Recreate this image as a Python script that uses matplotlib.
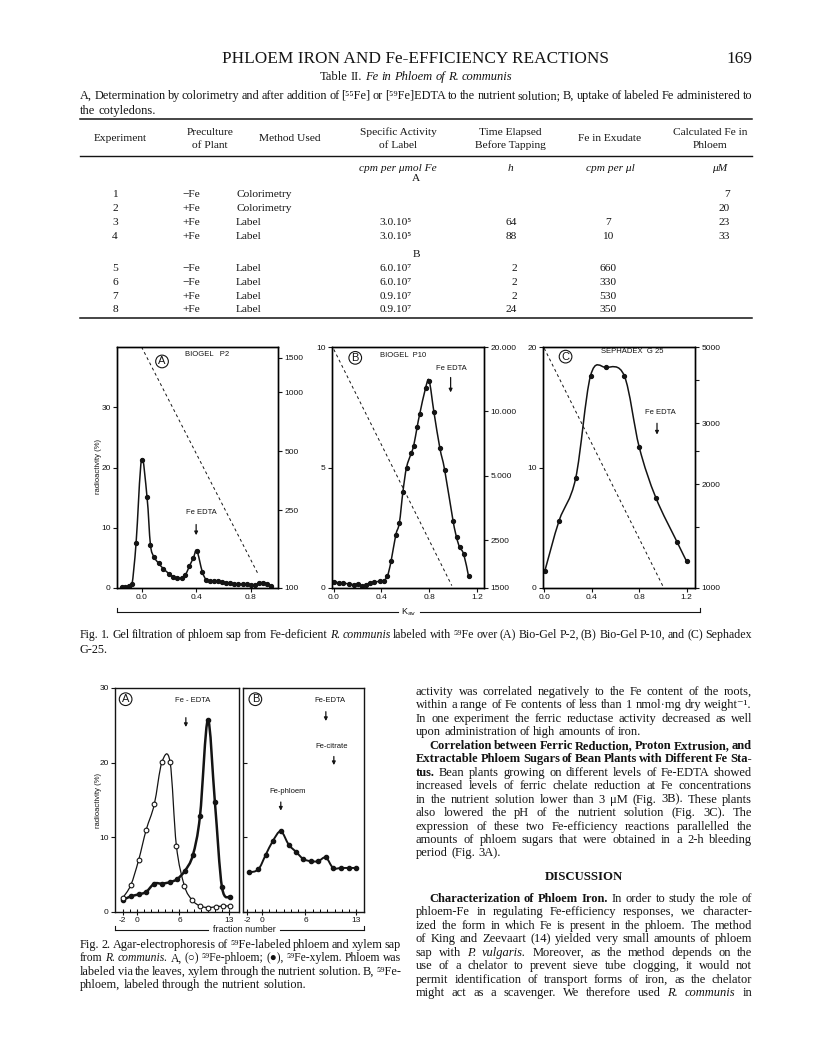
import numpy as np
import matplotlib
matplotlib.use("Agg")
import matplotlib.pyplot as plt
from matplotlib.path import Path
from matplotlib.patches import PathPatch
from matplotlib.lines import Line2D
from matplotlib.ticker import NullLocator, FixedLocator, NullFormatter

W, H = 816, 1057
SERIF = ["Liberation Serif", "DejaVu Serif"]
SANS = ["Liberation Sans", "DejaVu Sans"]
INK = "#141414"

# ---------------- Daten ----------------
# Table II
exp_nr = ["1", "2", "3", "4", "5", "6", "7", "8"]
preculture = ["−Fe", "+Fe", "+Fe", "+Fe", "−Fe", "−Fe", "+Fe", "+Fe"]
method = ["Colorimetry", "Colorimetry", "Label", "Label", "Label", "Label", "Label", "Label"]
spec_act = ["", "", "3.0.10⁵", "3.0.10⁵", "6.0.10⁷", "6.0.10⁷", "0.9.10⁷", "0.9.10⁷"]
time_h = ["", "", "64", "88", "2", "2", "2", "24"]
fe_exudate = ["", "", "7", "10", "660", "330", "530", "350"]
fe_phloem = ["7", "20", "23", "33", "", "", "", ""]

# Fig. 1 (Kav, radioactivity %)
kav_a = [-0.14, -0.12, -0.09, -0.07, -0.04, 0.0, 0.04, 0.065, 0.09, 0.125, 0.16, 0.20, 0.23,
         0.26, 0.295, 0.32, 0.35, 0.38, 0.405, 0.445, 0.475, 0.50, 0.53, 0.56, 0.59, 0.62,
         0.65, 0.68, 0.71, 0.74, 0.77, 0.80, 0.83, 0.86, 0.89, 0.92, 0.95]
rad_a = [0.2, 0.2, 0.4, 0.6, 7.5, 21.3, 15.1, 7.2, 5.2, 4.1, 3.2, 2.4, 1.9, 1.6, 1.7, 2.1,
         3.6, 5.0, 6.2, 2.7, 1.3, 1.2, 1.2, 1.1, 1.0, 0.9, 0.8, 0.7, 0.7, 0.6, 0.6, 0.5, 0.5,
         0.8, 0.9, 0.7, 0.4]
kav_b = [0.0, 0.04, 0.08, 0.126, 0.17, 0.20, 0.24, 0.27, 0.30, 0.34, 0.39, 0.42, 0.45, 0.48,
         0.52, 0.55, 0.58, 0.61, 0.65, 0.67, 0.70, 0.72, 0.77, 0.80, 0.84, 0.89, 0.93, 1.00,
         1.03, 1.055, 1.09, 1.13]
rad_b = [0.25, 0.22, 0.2, 0.17, 0.14, 0.17, 0.08, 0.14, 0.21, 0.25, 0.28, 0.31, 0.5, 1.1,
         2.2, 2.7, 4.0, 5.0, 5.6, 5.9, 6.7, 7.2, 8.3, 8.6, 7.3, 5.8, 4.9, 2.8, 2.1, 1.7, 1.4, 0.5]
kav_c = [0.005, 0.126, 0.265, 0.39, 0.52, 0.675, 0.80, 0.94, 1.12, 1.20]
rad_c = [1.4, 5.6, 9.1, 17.6, 18.3, 17.6, 11.7, 7.5, 3.8, 2.2]
# Eichgeraden (gestrichelt)
eich_a = ([0.0, 0.85], [40, 2.5])
eich_b = ([0.0, 0.99], [9.9, 0.1])
eich_c = ([0.0, 1.0], [19.9, 0.15])

# Fig. 2 (fraction number, radioactivity %)
frac_phl = [-2.0, -0.87, 0.22, 1.3, 2.44, 3.53, 4.67, 5.56, 6.7, 7.79, 8.9, 10.0, 11.1, 12.2, 13.2]
rad_phl = [1.9, 3.6, 6.9, 11.0, 14.4, 20.1, 20.1, 8.9, 3.5, 1.6, 0.8, 0.6, 0.7, 0.8, 0.8]
frac_xyl = [-2.0, -0.87, 0.22, 1.3, 2.44, 3.53, 4.67, 5.66, 6.75, 7.88, 8.9, 10.0, 11.0, 12.0, 13.2]
rad_xyl = [1.6, 2.1, 2.35, 2.7, 3.8, 3.8, 4.0, 4.4, 5.5, 7.6, 12.9, 25.7, 14.7, 3.3, 2.05]
frac_b = [-1.75, -0.5, 0.5, 1.5, 2.6, 3.7, 4.65, 5.7, 6.75, 7.75, 8.8, 9.8, 10.9, 11.95, 12.95]
rad_b2 = [5.3, 5.7, 7.6, 9.5, 10.8, 9.0, 8.1, 7.1, 6.8, 6.8, 7.3, 5.9, 5.9, 5.9, 5.9]

plt.rcParams["font.family"] = SANS
fig = plt.figure(figsize=(W / 100, H / 100), dpi=100)
fig.patch.set_facecolor("white")
renderer = fig.canvas.get_renderer()

LINKS, RECHTS = 80, 752      # Satzspiegel


def ftext(x, y, s, size=8.2, fam=SERIF, **kw):
    kw.setdefault("va", "baseline")
    kw.setdefault("color", INK)
    return fig.text(x / W, 1 - y / H, s, fontsize=size, family=fam, **kw)


def hline(x0, x1, y, lw=1.0):
    fig.add_artist(Line2D([x0 / W, x1 / W], [1 - y / H] * 2, lw=lw, color=INK))


def vline(x, y0, y1, lw=0.8):
    fig.add_artist(Line2D([x / W] * 2, [1 - y0 / H, 1 - y1 / H], lw=lw, color=INK))


# Zeile wortweise setzen (Blocksatz), bei Platzmangel etwas kleiner
def zeile(line, y, x0, x1=None, size=8.8, align="left"):
    while True:
        objs, widths = [], []
        for tk in line.split():
            weight, style = "normal", "normal"
            if tk.startswith("**"):
                weight = "bold"
            elif tk.startswith("*"):
                style = "italic"
            t = ftext(0, y, tk.strip("*"), size=size, weight=weight, style=style)
            objs.append(t)
            widths.append(t.get_window_extent(renderer).width)
        gap = size * 100 / 72 * 0.25
        if align == "justify" and len(objs) > 1:
            gap = (x1 - x0 - sum(widths)) / (len(objs) - 1)
            if gap < 1.8:
                for t in objs:
                    t.remove()
                size -= 0.2
                continue
        break
    total = sum(widths) + gap * (len(objs) - 1)
    if align == "center":
        x0 = x0 - total / 2
    x = x0
    for t, w in zip(objs, widths):
        t.set_x(x / W)
        x += w + gap


def glatt(ax, x, y, lw=1.1):
    p = np.column_stack([x, y]).astype(float)
    q = np.vstack([p[0], p, p[-1]])
    verts, codes = [p[0]], [Path.MOVETO]
    for i in range(1, len(q) - 2):
        verts += [q[i] + (q[i + 1] - q[i - 1]) / 6, q[i + 1] - (q[i + 2] - q[i]) / 6, q[i + 1]]
        codes += [Path.CURVE4] * 3
    ax.add_patch(PathPatch(Path(verts, codes), fill=False, lw=lw, ec=INK))


def panel(l, t, r, b):
    ax = fig.add_axes([l / W, 1 - b / H, (r - l) / W, (b - t) / H])
    for s in ax.spines.values():
        s.set_linewidth(1.0)
        s.set_color(INK)
    ax.tick_params(labelsize=6, length=3, width=0.8, direction="out", pad=1.5, colors=INK)
    return ax


def pfeil(ax, x, y0, y1):
    ax.annotate("", xy=(x, y1), xytext=(x, y0),
                arrowprops=dict(arrowstyle="-|>", lw=0.9, color=INK, mutation_scale=5))


def kreis(ax, x, y, s):
    ax.text(x, y, s, fontsize=8, ha="center", va="center", color=INK,
            bbox=dict(boxstyle="circle,pad=0.12", fc="white", ec=INK, lw=0.8))


# ---------------- Kopf und Tabelle ----------------
ftext(416, 63, "PHLOEM IRON AND Fe-EFFICIENCY REACTIONS", size=12.4, ha="center")
ftext(RECHTS, 63, "169", size=12.4, ha="right")
zeile("Table II. *Fe* *in* *Phloem* *of* *R.* *communis*", 80, 416, size=9.0, align="center")
zeile("A, Determination by colorimetry and after addition of [⁵⁵Fe] or [⁵⁹Fe]EDTA to the "
      "nutrient solution; B, uptake of labeled Fe administered to", 99, LINKS, RECHTS, size=9.0,
      align="justify")
zeile("the cotyledons.", 114, LINKS, size=9.0)
hline(LINKS, RECHTS, 119, 1.1)

cols = [120, 210, 290, 398, 510, 610, 710]
heads = [["Experiment"], ["Preculture", "of Plant"], ["Method Used"],
         ["Specific Activity", "of Label"], ["Time Elapsed", "Before Tapping"],
         ["Fe in Exudate"], ["Calculated Fe in", "Phloem"]]
for cx, hd in zip(cols, heads):
    if len(hd) == 1:
        ftext(cx, 141, hd[0], ha="center")
    else:
        ftext(cx, 135, hd[0], ha="center")
        ftext(cx, 148, hd[1], ha="center")
hline(LINKS, RECHTS, 156, 1.0)
for cx, u in zip(cols[3:], ["cpm per μmol Fe", "h", "cpm per μl", "μM"]):
    ftext(cx + (10 if u == "μM" else 0), 171, u, ha="center", style="italic")
ftext(416, 181, "A", ha="center")
ftext(416, 257, "B", ha="center")
row_y = [197, 211, 225, 239, 271, 285, 299, 312]
for i, y in enumerate(row_y):
    ftext(115, y, exp_nr[i], ha="center")
    ftext(182, y, preculture[i])
    ftext(236, y, method[i])
    ftext(396, y, spec_act[i], ha="center")
    ftext(517, y, time_h[i], ha="right")
    ftext(608, y, fe_exudate[i], ha="center")
    ftext(730, y, fe_phloem[i], ha="right")
hline(LINKS, RECHTS, 318, 1.1)

# ---------------- Fig. 1 ----------------
axA = panel(117, 347, 278, 588)
axA.set_xlim(-0.18, 1.0)
axA.set_ylim(0, 40)
axA.set_xticks([0.0, 0.4, 0.8], ["0.0", "0.4", "0.8"])
axA.set_yticks([0, 10, 20, 30])
axA.plot(*eich_a, ls=(0, (3, 3)), lw=0.7, color=INK)
glatt(axA, kav_a, rad_a)
axA.plot(kav_a, rad_a, "o", ms=2.8, color=INK)
kreis(axA, 0.15, 37.6, "A")
axA.text(0.48, 38.8, "BIOGEL   P2", fontsize=5.5, ha="center", va="center", color=INK)
axA.text(0.44, 12.6, "Fe EDTA", fontsize=5.5, ha="center", va="center", color=INK)
pfeil(axA, 0.40, 11.0, 8.3)
twA = axA.twinx()
twA.set_yscale("log")
twA.set_ylim(100, 1700)

axB = panel(332, 347, 484, 588)
axB.set_xlim(-0.015, 1.26)
axB.set_ylim(0, 10)
axB.set_xticks([0.0, 0.4, 0.8, 1.2], ["0.0", "0.4", "0.8", "1.2"])
axB.set_yticks([0, 5, 10])
axB.plot(*eich_b, ls=(0, (3, 3)), lw=0.7, color=INK)
glatt(axB, kav_b, rad_b)
axB.plot(kav_b, rad_b, "o", ms=2.8, color=INK)
kreis(axB, 0.18, 9.55, "B")
axB.text(0.58, 9.65, "BIOGEL  P10", fontsize=5.5, ha="center", va="center", color=INK)
axB.text(0.99, 9.1, "Fe EDTA", fontsize=5.5, ha="center", va="center", color=INK)
pfeil(axB, 0.98, 8.85, 8.0)
twB = axB.twinx()
twB.set_yscale("log")
twB.set_ylim(1500, 20000)

axC = panel(543, 347, 695, 588)
axC.set_xlim(-0.01, 1.27)
axC.set_ylim(0, 20)
axC.set_xticks([0.0, 0.4, 0.8, 1.2], ["0.0", "0.4", "0.8", "1.2"])
axC.set_yticks([0, 10, 20])
axC.plot(*eich_c, ls=(0, (3, 3)), lw=0.7, color=INK)
glatt(axC, kav_c, rad_c)
axC.plot(kav_c, rad_c, "o", ms=2.8, color=INK)
kreis(axC, 0.18, 19.2, "C")
axC.text(0.74, 19.6, "SEPHADEX  G 25", fontsize=5.5, ha="center", va="center", color=INK)
axC.text(0.98, 14.6, "Fe EDTA", fontsize=5.5, ha="center", va="center", color=INK)
pfeil(axC, 0.95, 13.9, 12.5)
twC = axC.twinx()
twC.set_yscale("log")
twC.set_ylim(1000, 5000)

right_ticks = [(twA, [100, 250, 500, 1000, 1500], ["100", "250", "500", "1000", "1500"], []),
               (twB, [1500, 2500, 5000, 10000, 20000], ["1500", "2500", "5.000", "10.000", "20.000"], []),
               (twC, [1000, 2000, 3000, 5000], ["1000", "2000", "3000", "5000"], [1500, 2500, 4000])]
for tw, tv, tl, tm in right_ticks:
    tw.yaxis.set_major_locator(FixedLocator(tv))
    tw.set_yticklabels(tl)
    tw.yaxis.set_minor_locator(FixedLocator(tm) if tm else NullLocator())
    tw.yaxis.set_minor_formatter(NullFormatter())
    tw.tick_params(which="both", labelsize=6, length=3, width=0.8, direction="out", pad=1.5, colors=INK)
    for s in tw.spines.values():
        s.set_linewidth(1.0)

ftext(98, 467, "radioactivity (%)", size=5.5, fam=SANS, rotation=90, ha="center", va="center")
hline(117, 398, 612, 0.8)
hline(420, 700, 612, 0.8)
vline(117, 608, 612)
vline(700, 608, 612)
ftext(409, 612, r"K$_{\rm av}$", size=6.5, fam=SANS, ha="center", va="center")
zeile("Fig. 1. Gel filtration of phloem sap from Fe-deficient *R.* *communis* labeled with ⁵⁹Fe "
      "over (A) Bio-Gel P-2, (B) Bio-Gel P-10, and (C) Sephadex", 638, LINKS, RECHTS, size=8.8,
      align="justify")
zeile("G-25.", 653, LINKS, size=8.8)

# ---------------- Fig. 2 ----------------
top2, bot2 = 688, 912
ax2a = panel(115, top2, 239, bot2)
ax2b = panel(243, top2, 364, bot2)
for ax, xl in [(ax2a, (-3.1, 14.4)), (ax2b, (-2.6, 14.05))]:
    ax.set_xlim(*xl)
    ax.set_ylim(0, 30)
    ax.set_xticks([-2, 0, 6, 13], ["-2", "0", "6", "13"])
    ax.xaxis.set_minor_locator(FixedLocator(list(range(-2, 14))))
    ax.tick_params(axis="x", which="minor", direction="in", length=2.5, width=0.7)
    ax.tick_params(axis="x", which="major", direction="inout", length=4)
    ax.set_yticks([0, 10, 20, 30])
ax2b.set_yticklabels([])
ax2b.tick_params(axis="y", direction="in", length=3)

glatt(ax2a, frac_phl, rad_phl, lw=0.9)
glatt(ax2a, frac_xyl, rad_xyl, lw=1.8)
ax2a.plot(frac_xyl, rad_xyl, "o", ms=3, color=INK)
ax2a.plot(frac_phl, rad_phl, "o", ms=3.4, mfc="white", mec=INK, mew=0.8)
kreis(ax2a, -1.6, 28.5, "A")
ax2a.text(7.8, 28.3, "Fe - EDTA", fontsize=5.5, ha="center", va="center", color=INK)
pfeil(ax2a, 6.9, 26.4, 24.4)

glatt(ax2b, frac_b, rad_b2, lw=1.4)
ax2b.plot(frac_b, rad_b2, "o", ms=3, color=INK)
kreis(ax2b, -0.9, 28.5, "B")
ax2b.text(9.3, 28.3, "Fe-EDTA", fontsize=5.5, ha="center", va="center", color=INK)
pfeil(ax2b, 8.8, 27.2, 25.2)
ax2b.text(9.6, 22.1, "Fe-citrate", fontsize=5.5, ha="center", va="center", color=INK)
pfeil(ax2b, 9.9, 21.2, 19.3)
ax2b.text(3.6, 16.1, "Fe-phloem", fontsize=5.5, ha="center", va="center", color=INK)
pfeil(ax2b, 2.6, 15.1, 13.2)

ftext(98, (top2 + bot2) / 2, "radioactivity (%)", size=5.5, fam=SANS, rotation=90, ha="center", va="center")
hline(115, 208, 930, 0.8)
hline(280, 364, 930, 0.8)
vline(115, 926, 930)
vline(364, 926, 930)
ftext(244, 930, "fraction number", size=6.5, fam=SANS, ha="center", va="center")

cap2 = ["Fig. 2. Agar-electrophoresis of ⁵⁹Fe-labeled phloem and xylem sap",
        "from *R.* *communis.* A, (○) ⁵⁹Fe-phloem; (●), ⁵⁹Fe-xylem. Phloem was",
        "labeled via the leaves, xylem through the nutrient solution. B, ⁵⁹Fe-",
        "phloem, labeled through the nutrient solution."]
for i, s in enumerate(cap2):
    zeile(s, 948 + 13.45 * i, LINKS, 401, size=8.8, align="justify" if i < 3 else "left")

# ---------------- rechte Spalte ----------------
col = [
    ("activity was correlated negatively to the Fe content of the roots,", 0, True),
    ("within a range of Fe contents of less than 1 nmol·mg dry weight⁻¹.", 0, True),
    ("In one experiment the ferric reductase activity decreased as well", 0, True),
    ("upon administration of high amounts of iron.", 0, False),
    ("**Correlation** **between** **Ferric** **Reduction,** **Proton** **Extrusion,** **and**", 13, True),
    ("**Extractable** **Phloem** **Sugars** **of** **Bean** **Plants** **with** **Different** **Fe** **Sta-**", 0, True),
    ("**tus.** Bean plants growing on different levels of Fe-EDTA showed", 0, True),
    ("increased levels of ferric chelate reduction at Fe concentrations", 0, True),
    ("in the nutrient solution lower than 3 μM (Fig. 3B). These plants", 0, True),
    ("also lowered the pH of the nutrient solution (Fig. 3C). The", 0, True),
    ("expression of these two Fe-efficiency reactions parallelled the", 0, True),
    ("amounts of phloem sugars that were obtained in a 2-h bleeding", 0, True),
    ("period (Fig. 3A).", 0, False),
    (None, 0, False),
    ("**Characterization** **of** **Phloem** **Iron.** In order to study the role of", 13, True),
    ("phloem-Fe in regulating Fe-efficiency responses, we character-", 0, True),
    ("ized the form in which Fe is present in the phloem. The method", 0, True),
    ("of King and Zeevaart (14) yielded very small amounts of phloem", 0, True),
    ("sap with *P.* *vulgaris.* Moreover, as the method depends on the", 0, True),
    ("use of a chelator to prevent sieve tube clogging, it would not", 0, True),
    ("permit identification of transport forms of iron, as the chelator", 0, True),
    ("might act as a scavenger. We therefore used *R.* *communis* in", 0, True),
]
SP = 13.45
y = 695
for txt, ind, just in col:
    if txt is None:
        zeile("**DISCUSSION**", y + 10, 584, size=9.2, align="center")
        y += 45.4 - SP
        continue
    zeile(txt, y, 416 + ind, RECHTS, size=9.0, align="justify" if just else "left")
    y += SP

fig.savefig("out.png", dpi=100, facecolor="white")
